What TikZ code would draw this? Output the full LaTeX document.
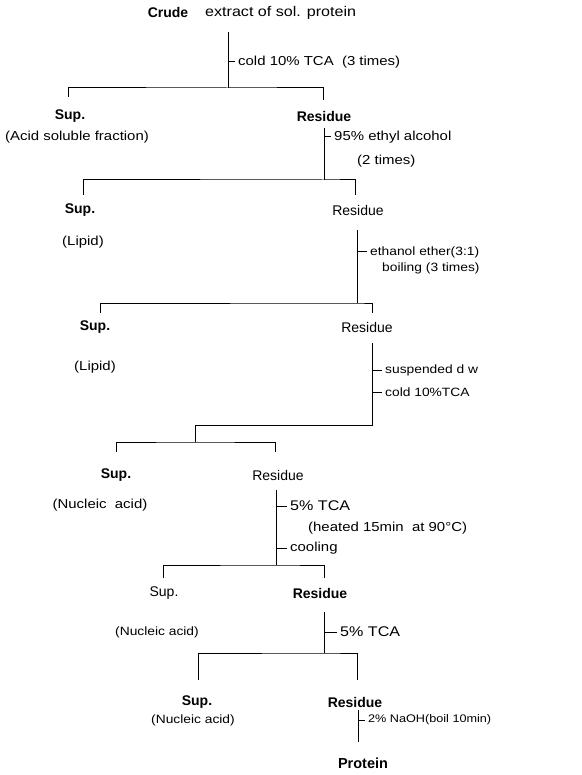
\documentclass[tikz,border=0pt]{standalone}
\usepackage{fontspec}
\setmainfont{Liberation Sans}
\newfontfamily\lab[FakeStretch=1.15]{Liberation Sans}
\begin{document}
\begin{tikzpicture}[x=1pt,y=-1pt,
  ln/.style={line width=1pt, black},
  hd/.style={inner sep=0pt, font=\fontsize{14}{16}\selectfont},
  hdb/.style={inner sep=0pt, font=\fontsize{14}{16}\selectfont\bfseries},
  lbA/.style={inner sep=0pt, font=\lab\fontsize{13}{15}\selectfont},
  lbB/.style={inner sep=0pt, font=\lab\fontsize{12}{14}\selectfont},
  lbC/.style={inner sep=0pt, font=\lab\fontsize{11}{13}\selectfont},
  lbD/.style={inner sep=0pt, font=\lab\fontsize{14}{16}\selectfont},
  lw/.style={anchor=west}]
\useasboundingbox (0,0) rectangle (581,775);
% ---- texts ----
\node[hdb] (crudeA) at (168,13) {Crude};
\node[lbD,lw] (crudeB) at (205,13) {extract of sol. protein};
\node[lbA,lw] (l1) at (238,62) {cold 10\% TCA\ \ (3 times)};
\node[hdb] (s1) at (70,116) {Sup.};
\node[lbA] (s1n) at (77,137) {(Acid soluble fraction)};
\node[hdb] (r1) at (324,116) {Residue};
\node[lbA,lw] (l2a) at (334,137) {95\% ethyl alcohol};
\node[lbA,lw] (l2b) at (357,161) {(2 times)};
\node[hdb] (s2) at (80,210) {Sup.};
\node[lbA] (s2n) at (83,242) {(Lipid)};
\node[hd] (r2) at (358,210) {Residue};
\node[lbB,lw] (l3a) at (370,252) {ethanol ether(3:1)};
\node[lbB,lw] (l3b) at (382,268) {boiling (3 times)};
\node[hdb] (s3) at (95,327) {Sup.};
\node[lbA] (s3n) at (95,367) {(Lipid)};
\node[hd] (r3) at (367,327) {Residue};
\node[lbB,lw] (l4a) at (385,370) {suspended d w};
\node[lbB,lw] (l4b) at (385,392) {cold 10\%TCA};
\node[hdb] (s4) at (116,475) {Sup.};
\node[lbA] (s4n) at (100,505) {(Nucleic\ \ acid)};
\node[hd] (r4) at (278,475) {Residue};
\node[lbD,lw] (l5a) at (290,506) {5\% TCA};
\node[lbA,lw] (l5b) at (308,528) {(heated 15min\ \ at 90°C)};
\node[lbA,lw] (l5c) at (290,548) {cooling};
\node[hd] (s5) at (164,593) {Sup.};
\node[lbB] (s5n) at (157,632) {(Nucleic acid)};
\node[hdb] (r5) at (320,593) {Residue};
\node[lbD,lw] (l6) at (340,632) {5\% TCA};
\node[hdb] (s6) at (197,702) {Sup.};
\node[lbB] (s6n) at (193,720) {(Nucleic acid)};
\node[hdb] (r6) at (355,702) {Residue};
\node[lbC,lw] (l7) at (368,720) {2\% NaOH(boil 10min)};
\node[hdb,font=\fontsize{14.5}{17}\selectfont\bfseries] (prot) at (363,763) {Protein};
% ---- junction coordinates ----
\coordinate (v1a) at (228,32);  \coordinate (j1) at (228,88);
\coordinate (d1a) at (68,97);   \coordinate (d1b) at (323,100);
\coordinate (v2a) at (324,128); \coordinate (j2) at (324,180);
\coordinate (d2a) at (83,195);  \coordinate (d2b) at (355,195);
\coordinate (v3a) at (357,230); \coordinate (j3) at (357,303);
\coordinate (d3a) at (100,313); \coordinate (d3b) at (372,313);
\coordinate (v4a) at (372,343); \coordinate (k4) at (372,425);
\coordinate (m4) at (195,425);  \coordinate (j4) at (195,442);
\coordinate (d4a) at (116,452); \coordinate (d4b) at (275,452);
\coordinate (v5a) at (276,490); \coordinate (j5) at (276,565);
\coordinate (d5a) at (163,578); \coordinate (d5b) at (324,578);
\coordinate (v6a) at (324,612); \coordinate (j6) at (324,653);
\coordinate (d6a) at (198,680); \coordinate (d6b) at (357,680);
\coordinate (v7a) at (358,710); \coordinate (j7) at (358,742);
% ---- lines ----
\draw[ln] (v1a) -- (j1);
\draw[ln] (d1a) |- (j1) -| (d1b);
\draw[ln] (l1.west -| j1) -- ([xshift=-3pt]l1.west);
\draw[ln] (v2a) -- (j2);
\draw[ln] (d2a) |- (j2) -| (d2b);
\draw[ln] (l2a.west -| j2) -- ([xshift=-3pt]l2a.west);
\draw[ln] (v3a) -- (j3);
\draw[ln] (d3a) |- (j3) -| (d3b);
\draw[ln] (l3a.west -| j3) -- ([xshift=-3pt]l3a.west);
\draw[ln] (v4a) -- (k4) -- (m4) -- (j4);
\draw[ln] (d4a) |- (j4) -| (d4b);
\draw[ln] (l4a.west -| k4) -- ([xshift=-3pt]l4a.west);
\draw[ln] (l4b.west -| k4) -- ([xshift=-3pt]l4b.west);
\draw[ln] (v5a) -- (j5);
\draw[ln] (d5a) |- (j5) -| (d5b);
\draw[ln] (l5a.west -| j5) -- ([xshift=-3pt]l5a.west);
\draw[ln] (l5c.west -| j5) -- ([xshift=-3pt]l5c.west);
\draw[ln] (v6a) -- (j6);
\draw[ln] (d6a) |- (j6) -| (d6b);
\draw[ln] (l6.west -| j6) -- ([xshift=-3pt]l6.west);
\draw[ln] (v7a) -- (j7);
\draw[ln] (l7.west -| j7) -- ([xshift=-3pt]l7.west);
\end{tikzpicture}
\end{document}
